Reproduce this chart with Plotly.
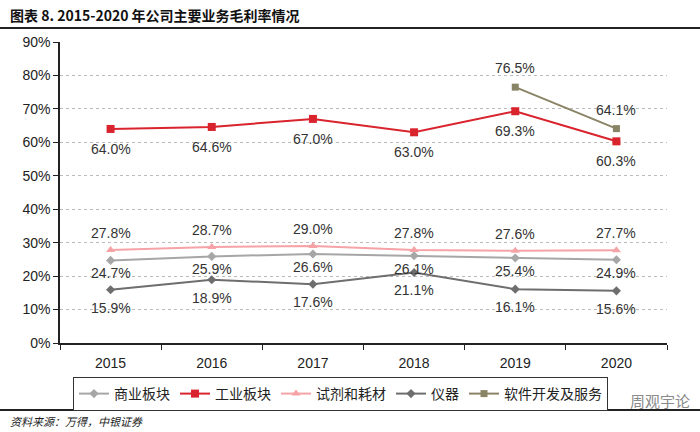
import plotly.graph_objects as go

years = ["2015", "2016", "2017", "2018", "2019", "2020"]
commercial = [24.7, 25.9, 26.6, 26.1, 25.4, 24.9]
industrial = [64.0, 64.6, 67.0, 63.0, 69.3, 60.3]
reagents = [27.8, 28.7, 29.0, 27.8, 27.6, 27.7]
instruments = [15.9, 18.9, 17.6, 21.1, 16.1, 15.6]
software_years = ["2019", "2020"]
software = [76.5, 64.1]

y_ticks = [0, 10, 20, 30, 40, 50, 60, 70, 80, 90]
y_tick_labels = [f"{v}%" for v in y_ticks]

series = [
    ("商业板块", years, commercial, "#a6a6a6", "diamond", 7, -13),
    ("工业板块", years, industrial, "#d9232d", "square", 8, -20),
    ("试剂和耗材", years, reagents, "#f5a3a6", "triangle-up", 8, 17),
    ("仪器", years, instruments, "#6e6e6e", "diamond", 7, -18),
    ("软件开发及服务", software_years, software, "#8a8466", "square", 7, 19),
]

fig = go.Figure()
annotations = []
for name, xs, ys, color, sym, msize, shift in series:
    fig.add_trace(go.Scatter(
        x=xs, y=ys, name=name, mode="lines+markers",
        line=dict(color=color, width=2),
        marker=dict(symbol=sym, size=msize, color=color),
    ))
    for xv, yv in zip(xs, ys):
        annotations.append(dict(
            x=years.index(xv), y=yv, xref="x", yref="y", text=f"{yv:.1f}%",
            showarrow=False, yshift=shift,
            font=dict(family="Liberation Sans, Arial", size=14, color="#333333"),
        ))

L, R, T, B = 60, 33, 42, 89
W, H = 700, 432
pw, ph = W - L - R, H - T - B


def px_x(p):
    return (p - L) / pw


def px_y(p):
    return (H - B - p) / ph


annotations.append(dict(
    x=px_x(8), y=px_y(15), xref="paper", yref="paper", xanchor="left", yanchor="middle",
    text="<b>图表 8. 2015-2020 年公司主要业务毛利率情况</b>", showarrow=False,
    font=dict(family="Noto Sans CJK SC", size=14, color="#111111"),
))
annotations.append(dict(
    x=px_x(8), y=px_y(421), xref="paper", yref="paper", xanchor="left", yanchor="middle",
    text="<i>资料来源：万得，中银证券</i>", showarrow=False,
    font=dict(family="Noto Sans CJK SC", size=11, color="#222222"),
))
annotations.append(dict(
    x=px_x(692), y=px_y(400), xref="paper", yref="paper", xanchor="right", yanchor="middle",
    text="周观宇论", showarrow=False,
    font=dict(family="Noto Sans CJK SC", size=15, color="#8a8a8a"),
))

shapes = [
    dict(type="line", xref="paper", yref="paper", x0=px_x(0), x1=px_x(700),
         y0=px_y(28), y1=px_y(28), line=dict(color="#222222", width=2)),
    dict(type="line", xref="paper", yref="paper", x0=px_x(0), x1=px_x(700),
         y0=px_y(410), y1=px_y(410), line=dict(color="#222222", width=2)),
]

fig.update_layout(
    width=W, height=H,
    margin=dict(l=L, r=R, t=T, b=B),
    paper_bgcolor="white", plot_bgcolor="white",
    font=dict(family="Liberation Sans, Arial", size=13, color="#222222"),
    showlegend=True,
    legend=dict(
        orientation="h", x=px_x(73), y=px_y(377), xanchor="left", yanchor="top",
        bordercolor="#333333", borderwidth=1,
        font=dict(family="Noto Sans CJK SC", size=14, color="#222222"),
        tracegroupgap=0,
    ),
    annotations=annotations,
    shapes=shapes,
)
fig.update_xaxes(
    type="category", categoryorder="array", categoryarray=years,
    range=[-0.5, len(years) - 0.5], automargin=False,
    showline=True, linecolor="#222222", linewidth=1.5,
    ticks="outside", tickson="boundaries", ticklen=5, tickcolor="#222222",
    ticklabelstandoff=6,
    showgrid=False, tickfont=dict(size=14, color="#222222"),
)
fig.update_yaxes(
    range=[0, 90], tickvals=y_ticks, ticktext=y_tick_labels, automargin=False,
    showline=True, linecolor="#222222", linewidth=1.5,
    ticks="outside", ticklen=5, tickcolor="#222222",
    showgrid=True, gridcolor="#bbbbbb", griddash="dot", gridwidth=1,
    zeroline=False, tickfont=dict(size=14, color="#222222"),
)

fig.write_html(
    "out.html",
    config={"displayModeBar": False},
    post_script="document.body.style.margin='0';document.body.style.overflow='hidden';",
)
